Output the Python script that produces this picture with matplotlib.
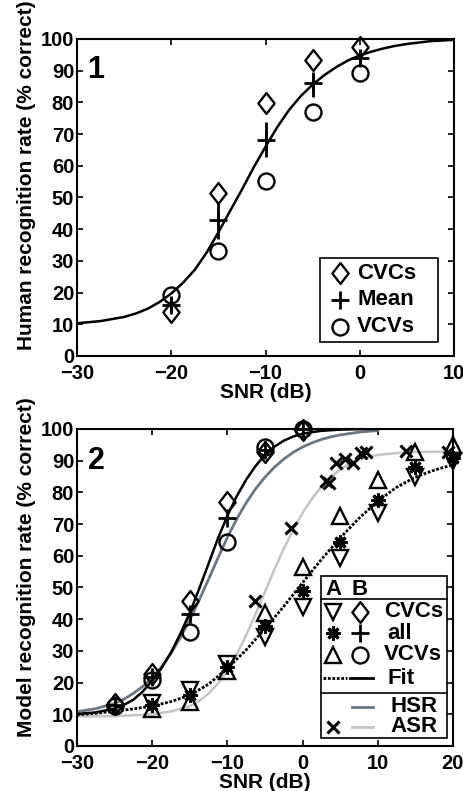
import matplotlib
matplotlib.use('Agg')
import matplotlib.pyplot as plt
from matplotlib.patches import Rectangle
from matplotlib.path import Path

plt.rcParams['font.family'] = ['Liberation Sans', 'DejaVu Sans']
plt.rcParams['font.weight'] = 'bold'
plt.rcParams['axes.labelweight'] = 'bold'

# Panel 1: human recognition
snr_h = [-20, -15, -10, -5, 0]
h_cvc = [14, 51.5, 79.7, 93.4, 97.5]
h_mean = [16.1, 42.9, 68.1, 86, 93.9]
h_mean_lo = [14, 37, 62.9, 81.8, 91.3]
h_mean_hi = [18.7, 48.7, 73.9, 89.7, 96.5]
h_vcv = [19.2, 33.2, 55.2, 77.1, 89.4]

fit_h_x = [-30, -27.5, -25, -23.75, -22.5, -21.25, -20, -18.75, -17.5, -16.25, -15,
           -13.75, -12.5, -11.25, -10, -8.75, -7.5, -6.25, -5, -3.75, -2.5, -1.25,
           0, 1.25, 2.5, 3.75, 5, 7.5, 10]
fit_h_y = [10.3, 11.0, 12.3, 13.4, 14.9, 17.0, 19.7, 23.1, 27.2, 32.6, 39.0,
           45.8, 52.5, 59.5, 66.0, 72.2, 77.6, 82.0, 85.6, 88.6, 91.1, 93.2,
           94.8, 96.0, 97.0, 97.8, 98.4, 99.3, 99.7]

# Panel 2: model recognition, set B (solid fit) and set A (dotted fit)
snr_b = [-25, -20, -15, -10, -5, 0]
b_cvc = [13.2, 22.6, 45.6, 77, 92.6, 99.6]
b_all = [13, 21.7, 41.7, 72, 93.3, 100]
b_vcv = [12.5, 20.8, 35.8, 64.2, 94.2, 100]

snr_a = [-20, -15, -10, -5, 0, 5, 10, 15, 20]
a_cvc = [13.7, 17.7, 26, 34.5, 43.8, 59.3, 73.5, 84.8, 89.8]
a_all = [12.9, 16, 25, 37.7, 49, 64.5, 77.7, 88, 90.8]
a_vcv = [11.7, 14, 23.5, 42, 56.6, 72.6, 84, 92.6, 95]

asr_x = [-6.36, -1.5, 3.1, 3.5, 4.5, 5.6, 6.7, 7.8, 8.5, 13.8, 19.3]
asr_y = [45.6, 68.7, 83.6, 83.0, 89.2, 90.4, 89.2, 92.3, 92.8, 93.1, 92.8]

fit_b_x = [-30, -27.5, -25, -23.75, -22.5, -21.25, -20, -18.75, -17.5, -16.25, -15,
           -13.75, -12.5, -11.25, -10, -8.75, -7.5, -6.25, -5, -3.75, -2.5, -1.25,
           0, 1.25, 2.5, 5, 7.5, 10]
fit_b_y = [10.1, 10.6, 11.8, 13.0, 14.6, 17.2, 20.6, 24.6, 29.5, 35.4, 42.0,
           49.6, 57.5, 65.5, 72.6, 78.8, 84.0, 88.3, 91.8, 94.4, 96.3, 97.6,
           98.5, 99.0, 99.4, 99.8, 99.95, 100]

hsr_x = [-30, -27.5, -25, -23.75, -22.5, -21.25, -20, -18.75, -17.5, -16.25, -15,
         -13.75, -12.5, -11.25, -10, -8.75, -7.5, -6.25, -5, -3.75, -2.5, -1.25,
         0, 1.25, 2.5, 3.75, 5, 7.5, 10]
hsr_y = [10.8, 11.8, 13.4, 14.8, 16.6, 18.8, 21.5, 25.0, 29.2, 34.2, 39.8,
         46.0, 52.6, 59.3, 65.8, 71.6, 76.7, 81.1, 84.8, 87.9, 90.5, 92.6,
         94.3, 95.6, 96.7, 97.5, 98.1, 99.0, 99.5]

fit_a_x = [-30, -27.5, -25, -22.5, -20, -17.5, -15, -12.5, -10, -7.5, -5, -2.5, 0,
           2.5, 5, 7.5, 10, 12.5, 15, 17.5, 20]
fit_a_y = [9.8, 10.3, 11, 11.7, 12.6, 14, 16, 19.5, 24.5, 30.3, 37, 44, 51.5,
           58.8, 65.6, 71.8, 77.2, 81.6, 84.8, 87.0, 88.7]

asr_fit_x = [-30, -25, -20, -17.5, -15, -13.75, -12.5, -11.25, -10, -8.75, -7.5,
             -6.25, -5, -3.75, -2.5, -1.25, 0, 1.25, 2.5, 3.75, 5, 6.25, 7.5,
             8.75, 10, 12.5, 15, 17.5, 20]
asr_fit_y = [9.3, 9.4, 10.0, 10.9, 12.6, 14.2, 16.5, 19.7, 23.8, 28.9, 34.9,
             41.6, 48.6, 55.6, 62.2, 68.2, 73.5, 78.0, 81.8, 84.8, 87.2, 89.0, 90.3,
             91.2, 91.8, 92.4, 92.7, 92.8, 92.9]

hsr_color = '#6d7781'
asr_color = '#c4c4c4'
dotted = (0, (1, 0.6))

# MATLAB-like diamond (a bit narrower than tall)
diamond = Path([(0, 1), (0.78, 0), (0, -1), (-0.78, 0), (0, 1)],
               [Path.MOVETO, Path.LINETO, Path.LINETO, Path.LINETO, Path.CLOSEPOLY])

fig = plt.figure(figsize=(4.64, 7.91), dpi=100)
ax1 = fig.add_axes([0.166, 0.55, 0.8125, 0.4008])
ax2 = fig.add_axes([0.166, 0.0569, 0.810, 0.4008])

mk = dict(linestyle='none', markerfacecolor='none', markeredgecolor='black',
          clip_on=False, zorder=3)
styles = {
    'cvc_b': dict(marker=diamond, markersize=15, markeredgewidth=1.7),
    'vcv_b': dict(marker='o', markersize=11.5, markeredgewidth=1.7),
    'all_b': dict(marker='+', markersize=13, markeredgewidth=2),
    'cvc_a': dict(marker='v', markersize=11.5, markeredgewidth=1.7),
    'vcv_a': dict(marker='^', markersize=11.5, markeredgewidth=1.7),
    'all_a': dict(marker=(8, 2, 0), markersize=10, markeredgewidth=2.2),
    'asr': dict(marker='x', markersize=9, markeredgewidth=2.2),
}

# Panel 1
ax1.plot(fit_h_x, fit_h_y, color='black', linewidth=1.8)
lo = [m - l for m, l in zip(h_mean, h_mean_lo)]
hi = [h - m for m, h in zip(h_mean, h_mean_hi)]
ax1.errorbar(snr_h, h_mean, yerr=[lo, hi], fmt='+', color='black', markersize=13,
             markeredgewidth=2, elinewidth=2, capsize=0, zorder=3)
ax1.plot(snr_h, h_cvc, **styles['cvc_b'], **mk)
ax1.plot(snr_h, h_vcv, **styles['vcv_b'], **mk)
ax1.text(0.028, 0.948, '1', transform=ax1.transAxes, fontsize=22,
         fontweight='bold', va='top')

ax1.set_xlim(-30, 10)
ax1.set_ylim(0, 100)
ax1.set_xticks([-30, -20, -10, 0, 10])
ax1.set_ylabel('Human recognition rate (% correct)', fontsize=15)
ax1.set_xlabel('SNR (dB)', fontsize=15, labelpad=0)
ax1.yaxis.set_label_coords(-0.11, 0.57)

# Hand-built legend for panel 1
T1 = ax1.transAxes
lg1 = dict(transform=T1, zorder=7, clip_on=False, linestyle='none')
txt1 = dict(transform=T1, fontsize=16, fontweight='bold', va='center', zorder=7)
ax1.add_patch(Rectangle((0.6446, 0.0442), 0.9576 - 0.6446, 0.309 - 0.0442,
                        transform=T1, facecolor='white', edgecolor='black',
                        linewidth=1.2, zorder=5))
rows1 = [0.261, 0.1767, 0.0924]
ax1.plot([0.6976], [rows1[0]], markerfacecolor='white', markeredgecolor='black',
         **styles['cvc_b'], **lg1)
ax1.plot([0.6976], [rows1[1]], color='black', **styles['all_b'], **lg1)
ax1.plot([0.6976], [rows1[2]], markerfacecolor='white', markeredgecolor='black',
         **styles['vcv_b'], **lg1)
for r, name in zip(rows1, ['CVCs', 'Mean', 'VCVs']):
    ax1.text(0.7427, r, name, ha='left', **txt1)

# Panel 2
ax2.plot(asr_fit_x, asr_fit_y, color=asr_color, linewidth=1.8)
ax2.plot(hsr_x, hsr_y, color=hsr_color, linewidth=2)
ax2.plot(fit_a_x, fit_a_y, color='black', linewidth=2, linestyle=dotted)
ax2.plot(fit_b_x, fit_b_y, color='black', linewidth=1.8)

ax2.plot(snr_a, a_cvc, **styles['cvc_a'], **mk)
ax2.plot(snr_a, a_vcv, **styles['vcv_a'], **mk)
ax2.plot(snr_a, a_all, **styles['all_a'], **mk)
ax2.plot(snr_b, b_cvc, **styles['cvc_b'], **mk)
ax2.plot(snr_b, b_vcv, **styles['vcv_b'], **mk)
ax2.plot(snr_b, b_all, **styles['all_b'], **mk)
ax2.plot(asr_x, asr_y, **styles['asr'], **mk)
ax2.text(0.028, 0.945, '2', transform=ax2.transAxes, fontsize=22,
         fontweight='bold', va='top')

ax2.set_xlim(-30, 20)
ax2.set_ylim(0, 100)
ax2.set_xticks([-30, -20, -10, 0, 10, 20])
ax2.set_ylabel('Model recognition rate (% correct)', fontsize=15)
ax2.set_xlabel('SNR (dB)', fontsize=15, labelpad=0)
ax2.yaxis.set_label_coords(-0.11, 0.565)

# Hand-built legend for panel 2
T = ax2.transAxes
box_l, box_r, box_b, box_t = 0.65, 0.9832, 0.0252, 0.5363
ax2.add_patch(Rectangle((box_l, box_b), box_r - box_l, box_t - box_b, transform=T,
                        facecolor='white', edgecolor='black', linewidth=1.2, zorder=5))
for ysep in [0.4628, 0.1662]:
    ax2.plot([box_l, box_r], [ysep, ysep], transform=T, color='black',
             linewidth=1.2, zorder=6)

col_a, col_b = 0.6817, 0.7527
lg = dict(transform=T, zorder=7, clip_on=False)
lgm = dict(lg, linestyle='none')
txt = dict(transform=T, fontsize=16, fontweight='bold', va='center', zorder=7)
ax2.text(col_a, 0.494, 'A', ha='center', **txt)
ax2.text(col_b, 0.494, 'B', ha='center', **txt)

rows = [0.4237, 0.3555, 0.2871, 0.2136, 0.124, 0.0609]
hollow = dict(markerfacecolor='white', markeredgecolor='black')
ax2.plot([col_a], [rows[0]], **styles['cvc_a'], **hollow, **lgm)
ax2.plot([col_b], [rows[0]], **styles['cvc_b'], **hollow, **lgm)
ax2.plot([col_a], [rows[1]], color='black', **styles['all_a'], **lgm)
ax2.plot([col_b], [rows[1]], color='black', **styles['all_b'], **lgm)
ax2.plot([col_a], [rows[2]], **styles['vcv_a'], **hollow, **lgm)
ax2.plot([col_b], [rows[2]], **styles['vcv_b'], **hollow, **lgm)
ax2.plot([0.654, 0.718], [rows[3]] * 2, color='black', linewidth=2,
         linestyle=dotted, **lg)
ax2.plot([0.726, 0.787], [rows[3]] * 2, color='black', linewidth=2, **lg)
ax2.plot([0.731, 0.787], [rows[4]] * 2, color=hsr_color, linewidth=2, **lg)
ax2.plot([0.731, 0.787], [rows[5]] * 2, color=asr_color, linewidth=2, **lg)
ax2.plot([col_a], [rows[5]], color='black', **styles['asr'], **lgm)
ax2.text(0.8165, rows[0], 'CVCs', ha='left', **txt)
ax2.text(0.827, rows[1], 'all', ha='left', **txt)
ax2.text(0.8165, rows[2], 'VCVs', ha='left', **txt)
ax2.text(0.827, rows[3], 'Fit', ha='left', **txt)
ax2.text(0.835, rows[4], 'HSR', ha='left', **txt)
ax2.text(0.835, rows[5], 'ASR', ha='left', **txt)

for ax in (ax1, ax2):
    ax.set_yticks(range(0, 101, 10))
    ax.tick_params(direction='in', top=True, right=True, length=4, width=1.2,
                   labelsize=14.5)
    ax.tick_params(axis='x', pad=6)
    ax.tick_params(axis='y', pad=2)
    for s in ax.spines.values():
        s.set_linewidth(1.5)
    for lab in ax.get_xticklabels() + ax.get_yticklabels():
        lab.set_fontweight('bold')

fig.savefig('out.png', dpi=100)
